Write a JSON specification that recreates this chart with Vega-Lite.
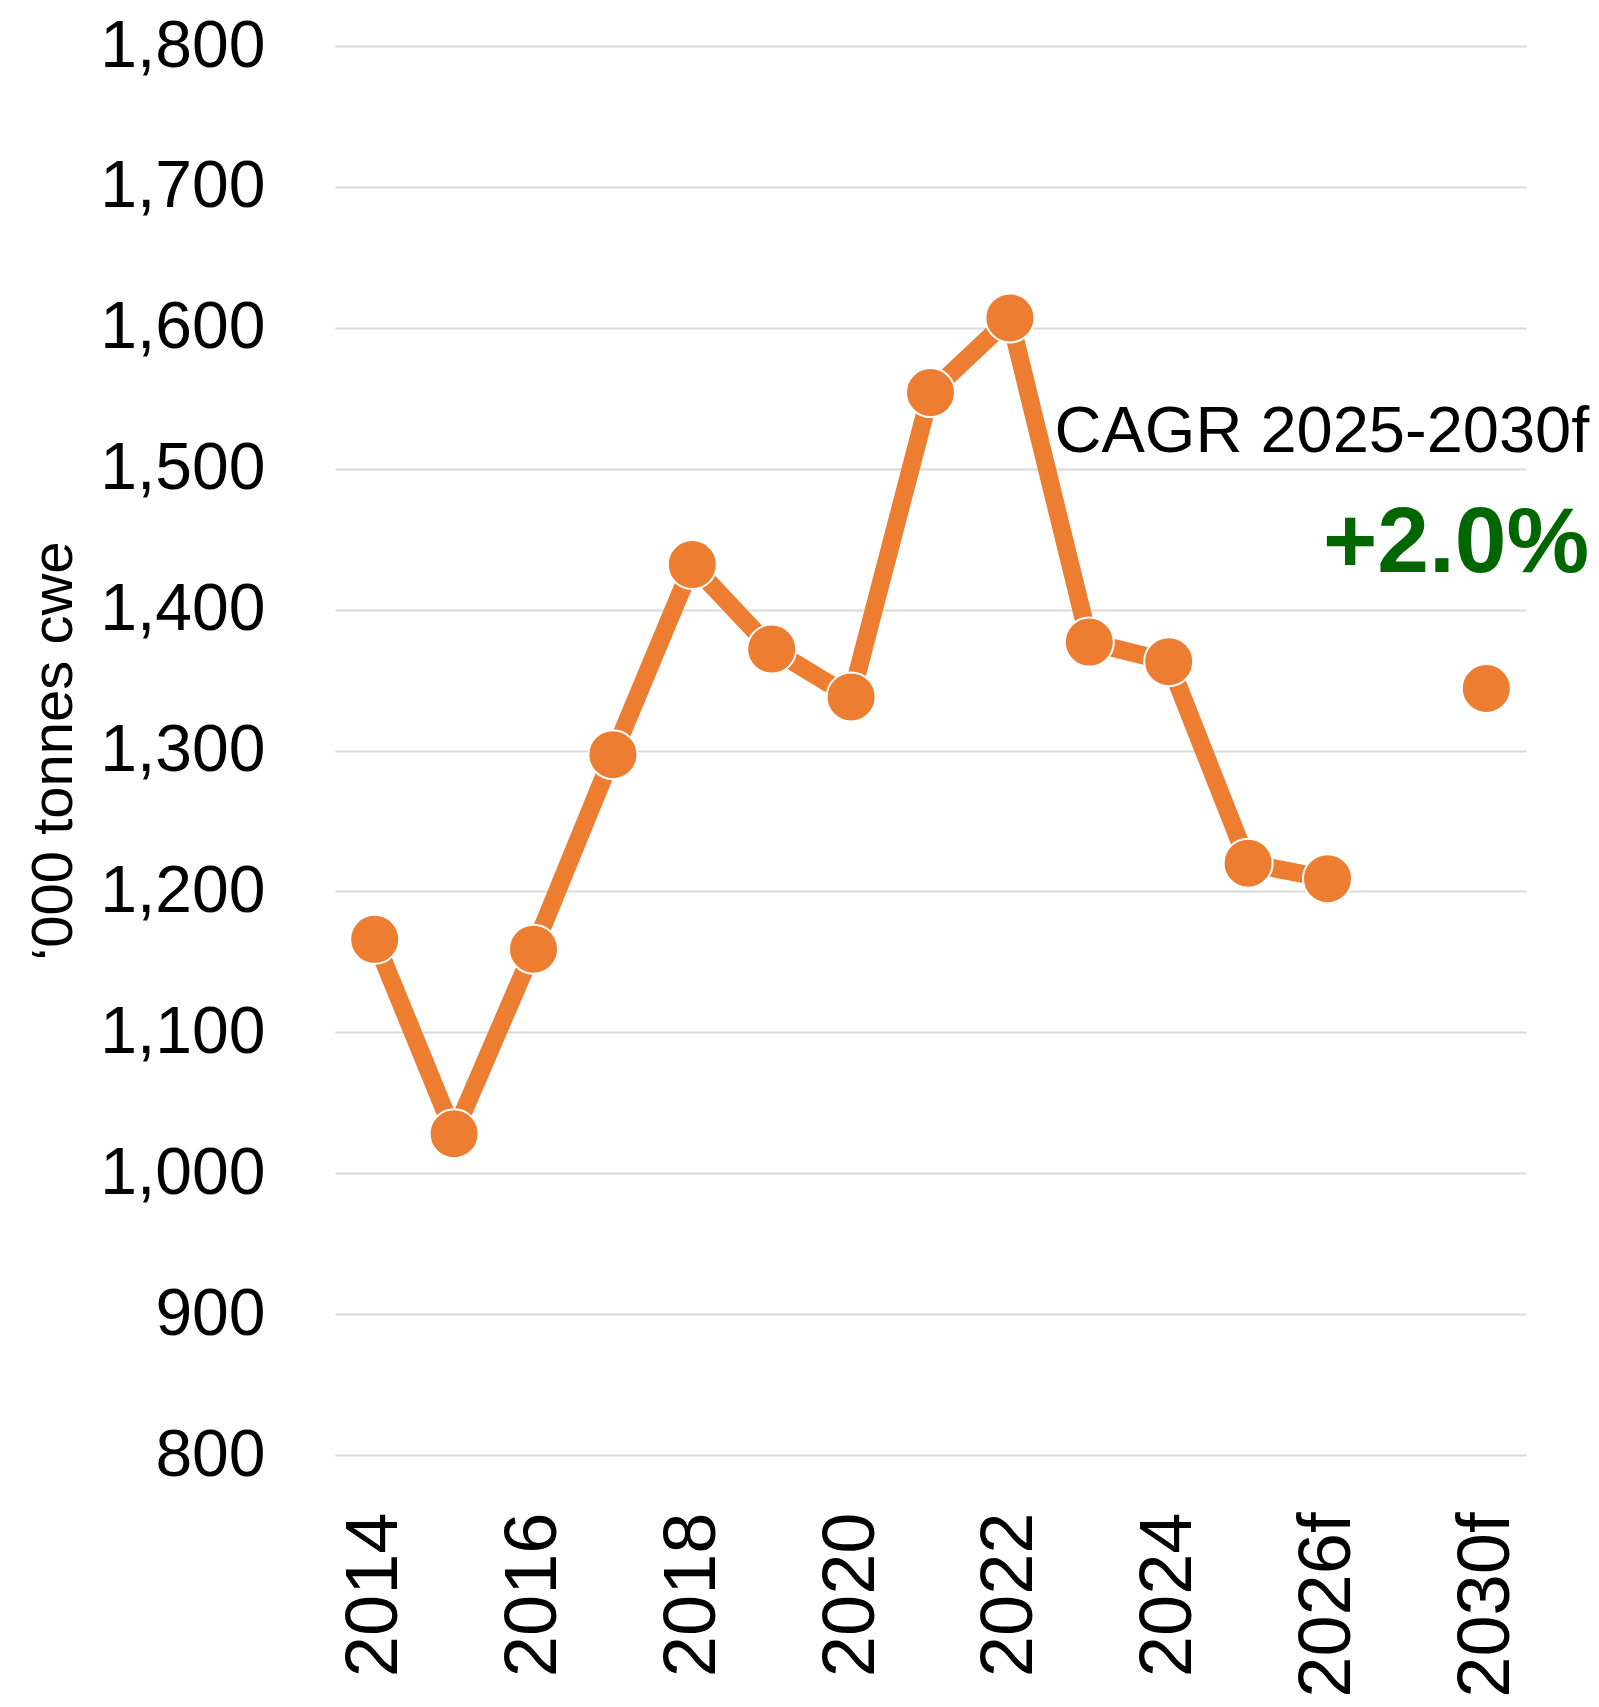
{
  "$schema": "https://vega.github.io/schema/vega-lite/v6.json",
  "autosize": {"type": "none"},
  "padding": {"left": 335, "top": 46, "right": 73, "bottom": 252},
  "width": 1191,
  "height": 1409,
  "background": "white",
  "config": {
    "view": {"stroke": null},
    "font": "Liberation Sans"
  },
  "datasets": {
    "main": [
      {"year": "2014", "value": 1166, "series": "actual"},
      {"year": "2015", "value": 1028, "series": "actual"},
      {"year": "2016", "value": 1159, "series": "actual"},
      {"year": "2017", "value": 1297, "series": "actual"},
      {"year": "2018", "value": 1432, "series": "actual"},
      {"year": "2019", "value": 1372, "series": "actual"},
      {"year": "2020", "value": 1338, "series": "actual"},
      {"year": "2021", "value": 1554, "series": "actual"},
      {"year": "2022", "value": 1607, "series": "actual"},
      {"year": "2023", "value": 1377, "series": "actual"},
      {"year": "2024", "value": 1363, "series": "actual"},
      {"year": "2025", "value": 1220, "series": "actual"},
      {"year": "2026f", "value": 1209, "series": "actual"},
      {"year": "2030f", "value": 1344, "series": "forecast"}
    ],
    "notes": [
      {"year": "2030f", "value": 1512, "label": "CAGR 2025-2030f", "kind": "title"},
      {"year": "2030f", "value": 1427, "label": "+2.0%", "kind": "value"}
    ]
  },
  "encoding": {
    "x": {
      "field": "year",
      "type": "ordinal",
      "scale": {
        "type": "point",
        "padding": 0.5,
        "domain": ["2014","2015","2016","2017","2018","2019","2020","2021","2022","2023","2024","2025","2026f"," ","2030f"]
      },
      "axis": {
        "title": null,
        "labelAngle": -90,
        "labelFontSize": 74,
        "labelFont": "Liberation Sans",
        "labelColor": "#000000",
        "labelPadding": 57,
        "labelLimit": 500,
        "labelOverlap": false,
        "ticks": false,
        "domain": false,
        "grid": false,
        "labelExpr": "indexof(['2015','2017','2019','2021','2023','2025',' '], datum.value) >= 0 ? '' : datum.value"
      }
    },
    "y": {
      "field": "value",
      "type": "quantitative",
      "scale": {"domain": [800, 1800], "nice": false, "zero": false},
      "axis": {
        "title": "‘000 tonnes cwe",
        "titleFont": "Liberation Sans",
        "titleFontSize": 58,
        "titleFontWeight": "normal",
        "titleColor": "#000000",
        "titlePadding": 52,
        "values": [800, 900, 1000, 1100, 1200, 1300, 1400, 1500, 1600, 1700, 1800],
        "format": ",.0f",
        "labelFontSize": 66,
        "labelLimit": 500,
        "labelColor": "#000000",
        "labelPadding": 70,
        "ticks": false,
        "domain": false,
        "grid": true,
        "gridColor": "#d9d9d9",
        "gridWidth": 2
      }
    }
  },
  "layer": [
    {
      "data": {"name": "main"},
      "mark": {"type": "line", "color": "#ED7D31", "strokeWidth": 18, "strokeJoin": "miter"},
      "encoding": {"detail": {"field": "series"}}
    },
    {
      "data": {"name": "main"},
      "mark": {"type": "point", "shape": "circle", "filled": true, "size": 2400, "fill": "#ED7D31", "stroke": "#ffffff", "strokeWidth": 2, "opacity": 1}
    },
    {
      "data": {"name": "notes"},
      "transform": [{"filter": "datum.kind == 'title'"}],
      "mark": {"type": "text", "align": "right", "baseline": "alphabetic", "dx": 103, "fontSize": 65, "font": "Liberation Sans", "color": "#000000"},
      "encoding": {"text": {"field": "label"}}
    },
    {
      "data": {"name": "notes"},
      "transform": [{"filter": "datum.kind == 'value'"}],
      "mark": {"type": "text", "align": "right", "baseline": "alphabetic", "dx": 103, "fontSize": 93, "fontWeight": "bold", "font": "Liberation Sans", "color": "#006600"},
      "encoding": {"text": {"field": "label"}}
    }
  ]
}
